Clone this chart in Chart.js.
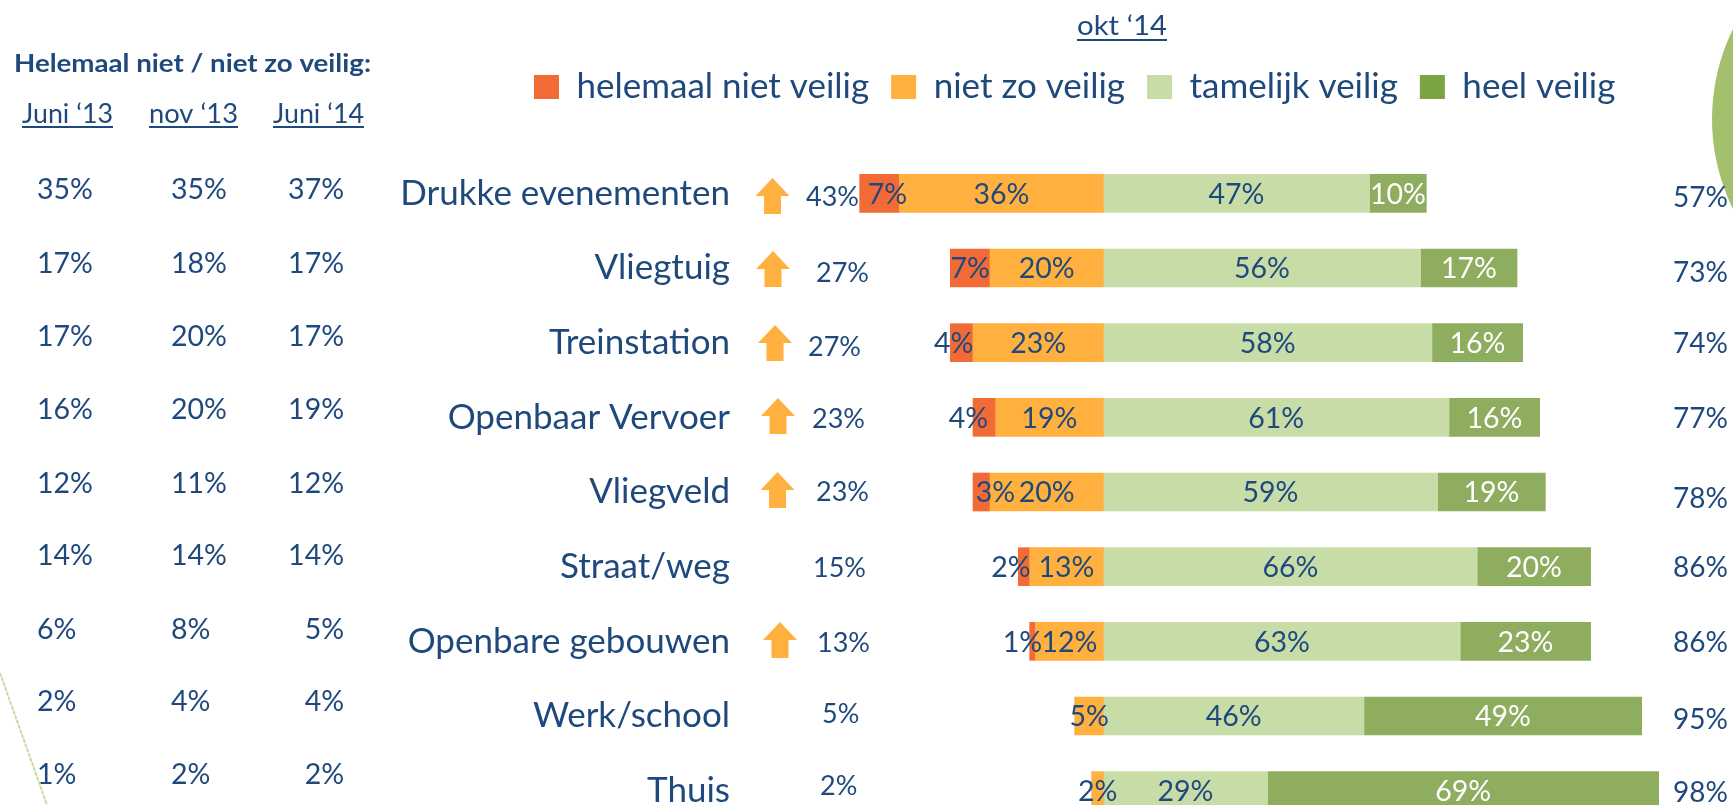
<!DOCTYPE html>
<html><head><meta charset="utf-8">
<style>html,body{margin:0;padding:0;background:#fff;overflow:hidden;width:1733px;height:805px}canvas{display:block}</style>
<script src="https://cdn.jsdelivr.net/npm/chart.js@4"></script>
</head><body>
<canvas id="c" width="1733" height="931"></canvas>
<script>
const categories = ["Drukke evenementen","Vliegtuig","Treinstation","Openbaar Vervoer","Vliegveld","Straat/weg","Openbare gebouwen","Werk/school","Thuis"];
const helemaalNiet = [7,7,4,4,3,2,1,0,0];
const nietZo = [36,20,23,19,20,13,12,5,2];
const tamelijk = [47,56,58,61,59,66,63,46,29];
const heel = [10,17,16,16,19,20,23,49,69];
const juni13 = ["35%","17%","17%","16%","12%","14%","6%","2%","1%"];
const nov13 = ["35%","18%","20%","20%","11%","14%","8%","4%","2%"];
const juni14 = ["37%","17%","17%","19%","12%","14%","5%","4%","2%"];
const onveiligTotaal = ["43%","27%","27%","23%","23%","15%","13%","5%","2%"];
const veiligTotaal = ["57%","73%","74%","77%","78%","86%","86%","95%","98%"];
const stijging = [true,true,true,true,true,false,true,false,false];
const seriesNames = ["helemaal niet veilig","niet zo veilig","tamelijk veilig","heel veilig"];

const NAVY="#1F497D", FONT="Lato, Carlito, sans-serif";
const C={red:"#F26A36",orange:"#FFB03F",light:"#C8DCA8",dark:"#8EAD5F",legendDark:"#7BA33F"};

const tableRowY=[190,263.5,337,410,483.5,556,629.5,702,775];
const midX=[806,816,808,812,816,813,817,822,820];
const midY=[197,273,347,419,492,568,643,714,786];
const rightY=[198,273,344,419,499,568,643,720,793];
const arrowX=[772.5,773,775,778,777.5,0,780,0,0];
const arrowTop=[178,251,325,398,472,0,622,0,0];
const nudgeRed=[8,0,-8,-16,14,-13,-10,0,0];

function txt(ctx,text,x,y,size,align){
  ctx.font=size+"px "+FONT;ctx.textAlign=align||"left";ctx.textBaseline="middle";ctx.fillStyle=NAVY;
  ctx.fillText(text,x,y);
}
function fitText(ctx,t,x,y,w){
  const m=ctx.measureText(t).width;ctx.save();ctx.translate(x,y);ctx.scale(w/m,1);ctx.fillText(t,0,0);ctx.restore();
}
const decoration={id:"decoration",beforeDraw(chart){
  const ctx=chart.ctx;ctx.save();
  ctx.fillStyle="#A3C16D";ctx.beginPath();ctx.arc(1915,119,203,0,Math.PI*2);ctx.fill();
  ctx.strokeStyle="#C5DDA0";ctx.lineWidth=2;ctx.setLineDash([4,1]);
  ctx.beginPath();ctx.moveTo(0,673);ctx.lineTo(47,805);ctx.stroke();
  ctx.restore();
}};
const sideColumns={id:"sideColumns",afterDatasetsDraw(chart){
  const ctx=chart.ctx;ctx.save();
  ctx.font="bold 25px "+FONT;ctx.textAlign="left";ctx.textBaseline="middle";ctx.fillStyle=NAVY;
  fitText(ctx,"Helemaal niet / niet zo veilig:",14,63.5,357);
  [["Juni ‘13",22,91,115,126],["nov ‘13",149,89,115,126],["Juni ‘14",273,91,115,126],["okt ‘14",1077,90,27,39]].forEach(([t,x,w,y,u])=>{
    ctx.font="26px "+FONT;ctx.textAlign="left";ctx.fillStyle=NAVY;
    fitText(ctx,t,x,y,w);
    ctx.fillRect(x,u,w,2);
  });
  for(let i=0;i<9;i++){
    txt(ctx,juni13[i],37,tableRowY[i],28.5);
    txt(ctx,nov13[i],171,tableRowY[i],28.5);
    txt(ctx,juni14[i],344,tableRowY[i],28.5,"right");
    txt(ctx,onveiligTotaal[i],midX[i],midY[i],27);
    txt(ctx,veiligTotaal[i],1728,rightY[i],28,"right");
    if(stijging[i]){
      const x=arrowX[i],t=arrowTop[i];
      ctx.fillStyle=C.orange;ctx.beginPath();
      ctx.moveTo(x,t);ctx.lineTo(x+17,t+18);ctx.lineTo(x+8.5,t+18);ctx.lineTo(x+8.5,t+36);
      ctx.lineTo(x-8.5,t+36);ctx.lineTo(x-8.5,t+18);ctx.lineTo(x-17,t+18);ctx.closePath();ctx.fill();
    }
  }
  chart.data.datasets.forEach((ds,d)=>{
    chart.getDatasetMeta(d).data.forEach((bar,i)=>{
      const v=ds.data[i]; if(!v) return;
      const n=(ds.label===seriesNames[0]?nudgeRed[i]:0);
      ctx.font="28.5px "+FONT;ctx.textAlign="center";ctx.textBaseline="middle";
      ctx.fillStyle=(ds.label===seriesNames[3])?"#FFFFFF":NAVY;
      ctx.fillText(Math.abs(v)+"%",(bar.x+bar.base)/2+n,bar.y+1);
    });
  });
  ctx.restore();
}};
const legendPlacer={id:"legendPlacer",afterLayout(chart){
  const l=chart.legend;l.left=512;l.right=1733;l.top=47.5;
}};
new Chart(document.getElementById("c"),{
  type:"bar",
  data:{labels:categories,datasets:[
    {label:seriesNames[1],data:nietZo.map(v=>-v),backgroundColor:C.orange},
    {label:seriesNames[0],data:helemaalNiet.map(v=>-v),backgroundColor:C.red},
    {label:seriesNames[2],data:tamelijk,backgroundColor:C.light},
    {label:seriesNames[3],data:heel,backgroundColor:C.dark}
  ]},
  options:{
    indexAxis:"y",responsive:false,animation:false,devicePixelRatio:1,
    layout:{autoPadding:false,padding:{top:89,right:63,left:0,bottom:0}},
    datasets:{bar:{barThickness:38}},
    scales:{
      x:{display:false,stacked:true,min:-50,max:100,afterFit(s){s.height=0;}},
      y:{stacked:true,grid:{display:false},border:{display:false},
        afterFit(s){s.width=820;},
        ticks:{color:NAVY,font:{family:FONT,size:35},padding:82,autoSkip:false,crossAlign:"near"}}
    },
    plugins:{
      tooltip:{enabled:false},title:{display:false},
      legend:{display:true,position:"top",align:"start",
        labels:{boxWidth:25,boxHeight:24,padding:22,color:NAVY,font:{family:FONT,size:35},
          sort:(a,b)=>seriesNames.indexOf(a.text)-seriesNames.indexOf(b.text),
          generateLabels(chart){
            const items=Chart.defaults.plugins.legend.labels.generateLabels(chart);
            items.forEach(it=>{it.lineWidth=0;if(it.text===seriesNames[3])it.fillStyle=C.legendDark;});
            return items;
          }}}
    }
  },
  plugins:[decoration,legendPlacer,sideColumns]
});
</script>
</body></html>
